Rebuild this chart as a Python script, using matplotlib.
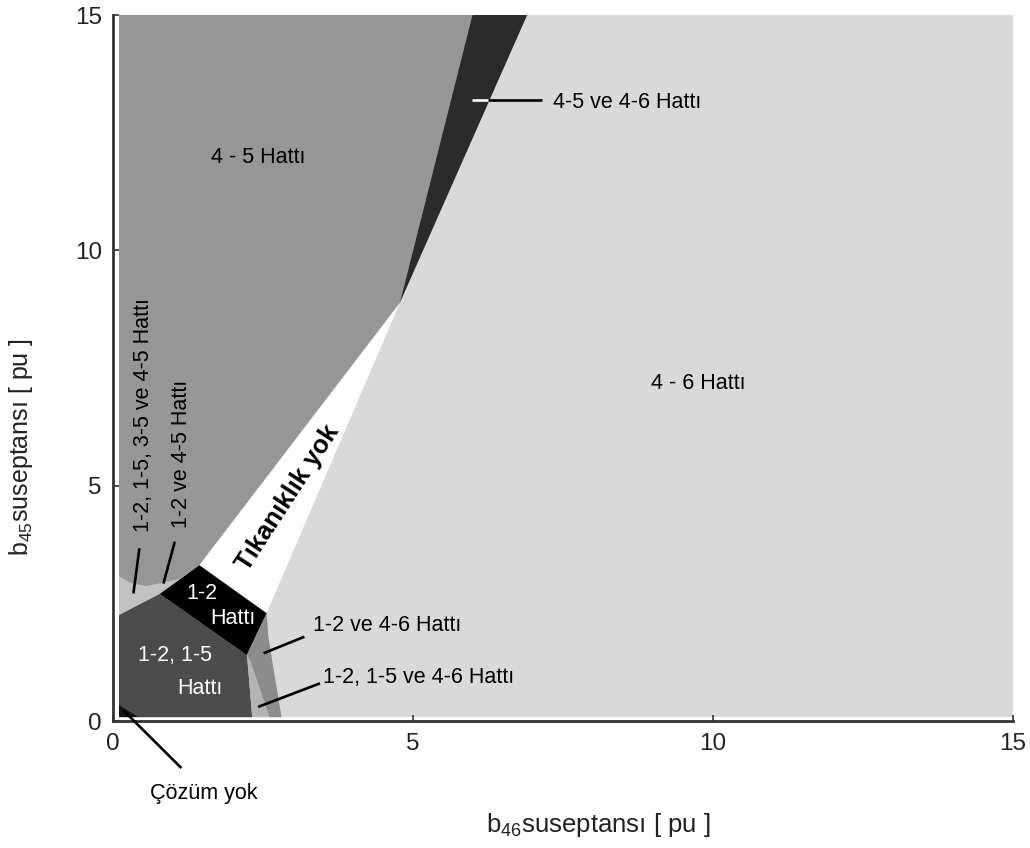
import numpy as np
import matplotlib
matplotlib.use('Agg')
import matplotlib.pyplot as plt
from matplotlib.patches import Polygon

plt.rcParams['font.family'] = ['Liberation Sans', 'DejaVu Sans']
plt.rcParams['mathtext.fontset'] = 'custom'
plt.rcParams['mathtext.rm'] = 'Liberation Sans'
plt.rcParams['mathtext.it'] = 'Liberation Sans'

# region boundaries (b46, b45)
bolge_46 = [(0.1, 0.08), (15, 0.08), (15, 15.05), (0.1, 15.05)]
bolge_serit = [(0.1, 2.25), (0.78, 2.70), (1.44, 3.31), (0.1, 3.35)]
bolge_45 = [(0.1, 15.05), (6.0, 15.05), (4.78, 8.88), (1.44, 3.31),
            (1.1, 3.02), (0.8, 2.93), (0.55, 2.87), (0.3, 2.93), (0.1, 3.08)]
bolge_45_46 = [(4.78, 8.88), (6.0, 15.05), (6.92, 15.05)]
bolge_yok = [(4.78, 8.88), (1.44, 3.31), (2.56, 2.29)]
bolge_12_15 = [(0.1, 2.25), (0.78, 2.70), (2.23, 1.40), (2.24, 1.30), (2.32, 0.08), (0.1, 0.08)]
bolge_12 = [(0.78, 2.70), (1.44, 3.31), (2.56, 2.29), (2.23, 1.40)]
bolge_12_15_46 = [(2.23, 1.40), (2.24, 1.30), (2.32, 0.08), (2.61, 0.08), (2.28, 1.30)]
bolge_12_46 = [(2.23, 1.40), (2.28, 1.30), (2.61, 0.08), (2.81, 0.08), (2.67, 1.15),
               (2.59, 1.79), (2.56, 2.29)]
bolge_cozumsuz = [(0.1, 0.34), (0.1, 0.08), (0.42, 0.08)]

bolgeler = [bolge_46, bolge_serit, bolge_45, bolge_45_46, bolge_yok, bolge_12_15,
            bolge_12, bolge_12_15_46, bolge_12_46, bolge_cozumsuz]
renkler = ['#d9d9d9', '#c2c2c2', '#969696', '#2b2b2b', '#ffffff', '#4b4b4b',
           '#000000', '#b4b4b4', '#8c8c8c', '#141414']

# annotation leader lines
cizgi_x = [(0.34, 0.44), (0.84, 1.03), (2.51, 3.19), (2.42, 3.45), (0.17, 1.14), (6.25, 7.15)]
cizgi_y = [(2.71, 3.67), (2.92, 3.81), (1.44, 1.79), (0.30, 0.80), (0.23, -1.0), (13.19, 13.19)]
beyaz_x = (5.98, 6.25)
beyaz_y = (13.19, 13.19)

fig = plt.figure(figsize=(10.3, 8.48), dpi=100)
ax = fig.add_axes([113 / 1030, 1 - 721 / 848, 900 / 1030, 706 / 848])

for pts, c in zip(bolgeler, renkler):
    ax.add_patch(Polygon(pts, closed=True, facecolor=c, edgecolor='none', zorder=1))

for xs, ys in zip(cizgi_x, cizgi_y):
    ax.plot(xs, ys, color='k', lw=1.9, solid_capstyle='butt', clip_on=False, zorder=4)
ax.plot(beyaz_x, beyaz_y, color='w', lw=1.9, solid_capstyle='butt', zorder=4)

fs = 15.5
ax.text(2.42, 11.98, '4 - 5 Hattı', fontsize=fs, ha='center', va='center')
ax.text(9.75, 7.18, '4 - 6 Hattı', fontsize=fs, ha='center', va='center')
ax.text(7.33, 13.15, '4-5 ve 4-6 Hattı', fontsize=fs, ha='left', va='center')
ax.text(3.33, 2.03, '1-2 ve 4-6 Hattı', fontsize=fs, ha='left', va='center')
ax.text(3.5, 0.92, '1-2, 1-5 ve 4-6 Hattı', fontsize=fs, ha='left', va='center')
ax.text(1.52, -1.53, 'Çözüm yok', fontsize=fs, ha='center', va='center', clip_on=False)
ax.text(0.505, 4.02, '1-2, 1-5, 3-5 ve 4-5 Hattı', fontsize=fs, rotation=90,
        rotation_mode='anchor', ha='left', va='center')
ax.text(1.14, 4.09, '1-2 ve 4-5 Hattı', fontsize=fs, rotation=90,
        rotation_mode='anchor', ha='left', va='center')
ax.text(2.91, 4.75, 'Tıkanıklık yok', fontsize=18.5, fontweight='bold', rotation=57,
        rotation_mode='anchor', ha='center', va='center')
ax.text(1.48, 2.70, '1-2', fontsize=fs, color='w', ha='center', va='center')
ax.text(1.99, 2.18, 'Hattı', fontsize=fs, color='w', ha='center', va='center')
ax.text(1.03, 1.40, '1-2, 1-5', fontsize=fs, color='w', ha='center', va='center')
ax.text(1.45, 0.70, 'Hattı', fontsize=fs, color='w', ha='center', va='center')

ax.set_xlim(0, 15)
ax.set_ylim(0, 15)
ax.set_xticks([0, 5, 10, 15])
ax.set_yticks([0, 5, 10, 15])
ax.tick_params(direction='in', length=4, width=1.2, color='#333333', labelsize=17.5,
               labelcolor='#222222')
ax.tick_params(axis='x', pad=9)
ax.tick_params(axis='y', pad=8)
ax.spines['top'].set_visible(False)
ax.spines['right'].set_visible(False)
for s in ['left', 'bottom']:
    ax.spines[s].set_color('#333333')
    ax.spines[s].set_linewidth(2)

ax.text(0.539, -0.147, 'b$_{46}$suseptansı [ pu ]', fontsize=18.5, color='#222222',
        transform=ax.transAxes, ha='center', va='center', clip_on=False)
ax.text(-0.102, 0.388, 'b$_{45}$suseptansı [ pu ]', fontsize=18, color='#222222',
        rotation=90, transform=ax.transAxes, ha='center', va='center', clip_on=False)

plt.savefig('out.png', dpi=100)
